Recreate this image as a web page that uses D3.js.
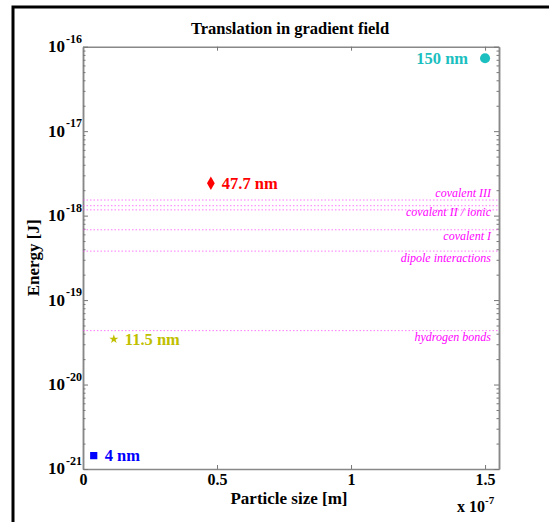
<!DOCTYPE html>
<html>
<head>
<meta charset="utf-8">
<script src="https://cdn.jsdelivr.net/npm/d3@7"></script>
<style>
  body { margin: 0; background: #fff; }
  svg { display: block; }
  .tick text { font-family: "Liberation Serif", serif; font-weight: bold; }
</style>
</head>
<body>
<div id="chart"></div>
<script>
// dati
var particleSizes = [4e-9, 11.5e-9, 47.7e-9, 150e-9];
var particleEnergies = [1.44e-21, 3.45e-20, 2.42e-18, 7.3e-17];
var particleLabels = ["4 nm", "11.5 nm", "47.7 nm", "150 nm"];

var bondEnergies = [1.53e-18, 1.31e-18, 1.17e-18, 6.8e-19, 3.8e-19, 4.35e-20];
var bondLabels = ["covalent III", "covalent II / ionic", "", "covalent I", "dipole interactions", "hydrogen bonds"];

var xTicks = [0, 0.5e-7, 1e-7, 1.5e-7];
var xTickLabels = ["0", "0.5", "1", "1.5"];
var yTicks = [1e-21, 1e-20, 1e-19, 1e-18, 1e-17, 1e-16];
var yTickExps = ["-21", "-20", "-19", "-18", "-17", "-16"];

// colori e simboli
var pointColors = ["#0000ff", "#bfbf00", "#ff0000", "#1cbfbf"];
var pointSymbols = [d3.symbolSquare, d3.symbolStar, d3.symbolDiamond, d3.symbolCircle];
var pointSizes = [52, 26, 52, 80];
var serif = "'Liberation Serif', 'Times New Roman', serif";

// margini e dimensioni
var W = 549, H = 522;
var margin = {top: 46.7, right: 50, bottom: 53, left: 83},
  width = W - margin.left - margin.right,
  height = H - margin.top - margin.bottom;

var svg = d3.select("#chart").append("svg")
  .attr("width", W).attr("height", H);

// cornice nera
svg.append("path")
  .attr("d", "M13,522 V7 H549")
  .attr("fill", "none").attr("stroke", "#000").attr("stroke-width", 3);

var g = svg.append("g")
  .attr("transform", "translate(" + margin.left + "," + margin.top + ")");

var x = d3.scaleLinear().domain([0, 1.552e-7]).range([0, width]);
var y = d3.scaleLog().domain([1e-21, 1e-16]).range([height, 0]);

// tick minori
var minor = [];
yTicks.slice(0, -1).forEach(function(d) {
  for (var k = 2; k < 10; k++) minor.push(d * k);
});

function styleAxis(sel) {
  sel.select(".domain").attr("stroke", "#888").attr("stroke-width", 1.5);
  sel.selectAll(".tick line").attr("stroke", "#777");
}

// asse X
g.append("g")
  .attr("transform", "translate(0," + height + ")")
  .call(d3.axisBottom(x).tickValues(xTicks).tickSizeInner(-4).tickSizeOuter(0).tickPadding(5)
    .tickFormat(function(d, i) { return xTickLabels[i]; }))
  .call(styleAxis)
  .selectAll("text").attr("font-size", 16).attr("fill", "#000");

g.append("g")
  .call(d3.axisTop(x).tickValues(xTicks).tickSizeInner(-4).tickSizeOuter(0).tickFormat(""))
  .call(styleAxis);

// asse Y
g.append("g")
  .call(d3.axisLeft(y).tickValues(yTicks).tickSizeInner(-5).tickSizeOuter(0).tickFormat(""))
  .call(styleAxis);
g.append("g")
  .call(d3.axisLeft(y).tickValues(minor).tickSizeInner(-2.5).tickSizeOuter(0).tickFormat(""))
  .call(styleAxis);

g.append("g")
  .attr("transform", "translate(" + width + ",0)")
  .call(d3.axisRight(y).tickValues(yTicks).tickSizeInner(-5).tickSizeOuter(0).tickFormat(""))
  .call(styleAxis);
g.append("g")
  .attr("transform", "translate(" + width + ",0)")
  .call(d3.axisRight(y).tickValues(minor).tickSizeInner(-2.5).tickSizeOuter(0).tickFormat(""))
  .call(styleAxis);

// etichette Y con esponente
yTicks.forEach(function(d, i) {
  g.append("text")
    .attr("x", -18).attr("y", y(d) + 5.5)
    .attr("text-anchor", "end")
    .attr("font-family", serif).attr("font-weight", "bold").attr("font-size", 17)
    .text("10");
  g.append("text")
    .attr("x", -17).attr("y", y(d) - 4)
    .attr("font-family", serif).attr("font-weight", "bold").attr("font-size", 12)
    .text(yTickExps[i]);
});

// titolo e label assi
svg.append("text")
  .attr("x", margin.left + width / 2 - 1).attr("y", 34)
  .attr("text-anchor", "middle")
  .attr("font-family", serif).attr("font-weight", "bold").attr("font-size", 16.5)
  .text("Translation in gradient field");

svg.append("text")
  .attr("x", margin.left + width / 2 - 2).attr("y", 504)
  .attr("text-anchor", "middle")
  .attr("font-family", serif).attr("font-weight", "bold").attr("font-size", 17)
  .text("Particle size [m]");

svg.append("text")
  .attr("transform", "translate(39," + (margin.top + height / 2) + ") rotate(-90)")
  .attr("text-anchor", "middle")
  .attr("font-family", serif).attr("font-weight", "bold").attr("font-size", 17)
  .text("Energy [J]");

var mult = svg.append("text")
  .attr("x", 457).attr("y", 512)
  .attr("font-family", serif).attr("font-weight", "bold").attr("font-size", 16);
mult.append("tspan").text("x 10");
mult.append("tspan").attr("dy", -8).attr("font-size", 11).text("-7");

// linee di legame
g.selectAll(".bond")
  .data(bondEnergies)
  .enter().append("line")
    .attr("x1", 0).attr("x2", width)
    .attr("y1", function(d) { return y(d); })
    .attr("y2", function(d) { return y(d); })
    .attr("stroke", "#ff33ff").attr("stroke-opacity", 0.65)
    .attr("stroke-width", 1).attr("stroke-dasharray", "1.5,2");

g.selectAll(".bondlabel")
  .data(bondEnergies)
  .enter().append("text")
    .attr("x", width - 8)
    .attr("y", function(d, i) { return y(d) + (i === 0 ? -3 : 10.5); })
    .attr("text-anchor", "end")
    .attr("font-family", serif).attr("font-style", "italic").attr("font-size", 12)
    .attr("fill", "#ff00ff")
    .text(function(d, i) { return bondLabels[i]; });

// punti
g.selectAll(".pt")
  .data(particleSizes)
  .enter().append("path")
    .attr("transform", function(d, i) { return "translate(" + x(d) + "," + y(particleEnergies[i]) + ")"; })
    .attr("d", function(d, i) { return d3.symbol().type(pointSymbols[i]).size(pointSizes[i])(); })
    .attr("fill", function(d, i) { return pointColors[i]; });

g.selectAll(".ptlabel")
  .data(particleSizes)
  .enter().append("text")
    .attr("x", function(d) { return x(d) + (d > 1e-7 ? -17 : 11); })
    .attr("y", function(d, i) { return y(particleEnergies[i]) + 5.5; })
    .attr("text-anchor", function(d) { return d > 1e-7 ? "end" : "start"; })
    .attr("font-family", serif).attr("font-weight", "bold").attr("font-size", 16.5)
    .attr("fill", function(d, i) { return pointColors[i]; })
    .text(function(d, i) { return particleLabels[i]; });
</script>
</body>
</html>
